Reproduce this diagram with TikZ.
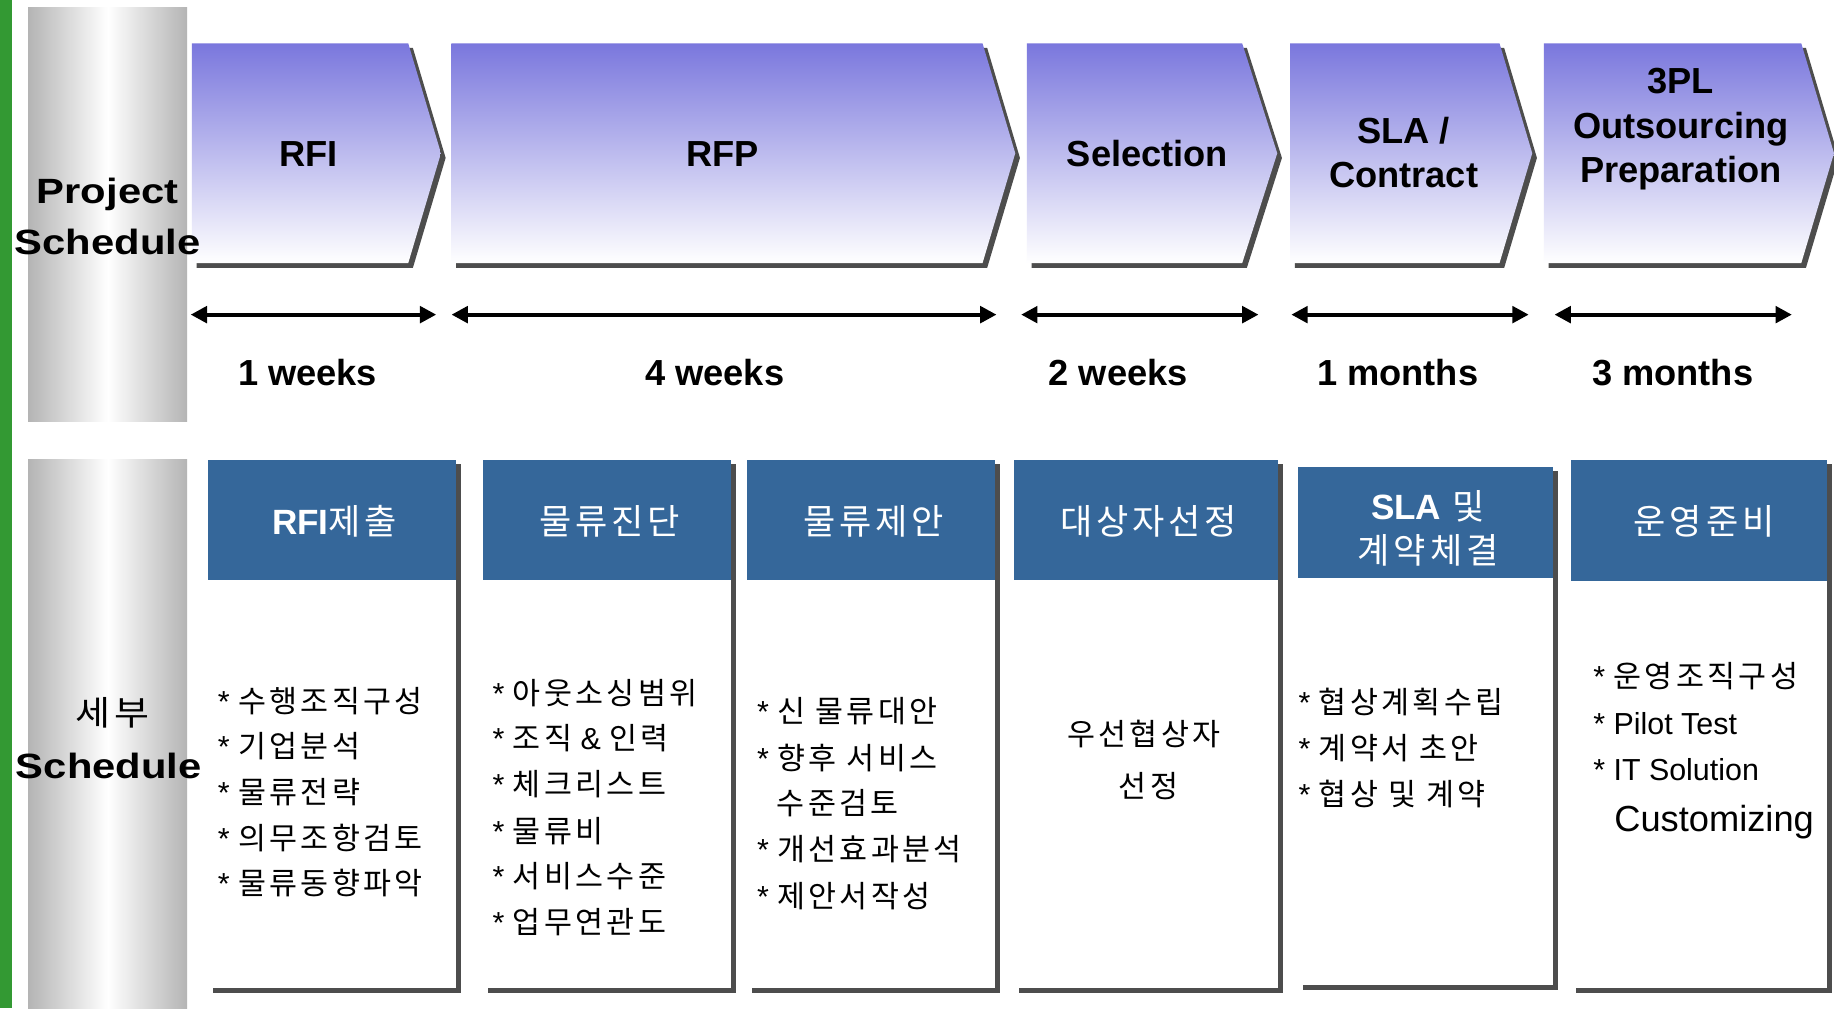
\documentclass[tikz,border=0pt]{standalone}
\usepackage{graphicx}
\usepackage{fontspec}
\setmainfont{Liberation Sans}
\newfontfamily\kr{Noto Sans CJK KR}[LetterSpace=11]
\usetikzlibrary{arrows.meta}
\definecolor{greenbar}{HTML}{339933}
\definecolor{colgray}{HTML}{B4B4B4}
\definecolor{chevtop}{HTML}{7A77DD}
\definecolor{shadowgray}{HTML}{4D4D4D}
\definecolor{hdrblue}{HTML}{35679A}
\newcommand{\myfs}[1]{\fontsize{#1}{#1}\selectfont}
\begin{document}
\begin{tikzpicture}[x=1pt,y=-1pt,
  chev/.style={top color=chevtop, bottom color=white},
  ptxt/.style={inner sep=0, anchor=base, font=\bfseries\myfs{31}},
  htxt/.style={inner sep=0, anchor=base, text=white, font=\kr\myfs{30}},
  itm/.style={inner sep=0, anchor=base west, font=\myfs{26}},
  ctr/.style={inner sep=0, anchor=base, font=\kr\myfs{26}},
  side/.style={inner sep=0, anchor=base, font=\bfseries\myfs{30}},
  arr/.style={line width=3.5pt, {Triangle[length=14pt,width=14pt]}-{Triangle[length=14pt,width=14pt]}}
]
\useasboundingbox (0,0) rectangle (1568,862);
\fill[white] (0,0) rectangle (1568,862);
\fill[greenbar] (0,0) rectangle (10,862);
% gray columns
\shade[left color=colgray, right color=colgray, middle color=white] (24,6) rectangle (160,360);
\shade[left color=colgray, right color=colgray, middle color=white] (24,393) rectangle (160,862);
% chevrons
\foreach \a/\b/\c in {164/349/377, 386/840/868, 878/1062/1092, 1103/1282/1310, 1320/1540/1568}{
  \fill[shadowgray] ({\a+4},41) -- ({\b+4},41) -- ({\c+4},135) -- ({\b+4},229) -- ({\a+4},229) -- cycle;
  \shade[chev] (\a,37) -- (\b,37) -- (\c,131) -- (\b,225) -- (\a,225) -- cycle;
}
\node[ptxt] (c1) at (264,142) {RFI};
\node[ptxt] (c2) at (618,142) {RFP};
\node[ptxt] (c3) at (981,142) {Selection};
\node[ptxt] (c4a) at (1200,123) {SLA /};
\node[ptxt] (c4b) at (1200,160) {Contract};
\node[ptxt] (c5a) at (1437,80) {3PL};
\node[ptxt] (c5b) at (1437,118) {Outsourcing};
\node[ptxt] (c5c) at (1437,156) {Preparation};
% side labels (on top)
\node[side] (ps1) at (92,174) {\scalebox{1.19}[1]{Project}};
\node[side] (ps2) at (92,218) {\scalebox{1.19}[1]{Schedule}};
\node[inner sep=0, anchor=base, font=\kr\myfs{29}] (sb1) at (96,620) {\scalebox{1.12}[1]{세부}};
\node[side] (sb2) at (93,666) {\scalebox{1.19}[1]{Schedule}};
% duration arrows
\coordinate (a1l) at (163,269); \coordinate (a1r) at (373,269);
\coordinate (a2l) at (386,269); \coordinate (a2r) at (852,269);
\coordinate (a3l) at (873,269); \coordinate (a3r) at (1076,269);
\coordinate (a4l) at (1104,269); \coordinate (a4r) at (1307,269);
\coordinate (a5l) at (1329,269); \coordinate (a5r) at (1532,269);
\draw[arr] (a1l) -- (a1r);
\draw[arr] (a2l) -- (a2r);
\draw[arr] (a3l) -- (a3r);
\draw[arr] (a4l) -- (a4r);
\draw[arr] (a5l) -- (a5r);
\node[ptxt] (d1) at (263,330) {1 weeks};
\node[ptxt] (d2) at (611,330) {4 weeks};
\node[ptxt] (d3) at (956,330) {2 weeks};
\node[ptxt] (d4) at (1195,330) {1 months};
\node[ptxt] (d5) at (1430,330) {3 months};
% detail boxes
\foreach \a/\b/\t/\h/\btm in {178/390/393/496/845, 413/625/393/496/845, 639/851/393/496/845, 867/1093/393/496/845, 1110/1328/399/494/842, 1343/1562/393/497/845}{
  \fill[shadowgray] ({\a+4},{\t+4}) rectangle ({\b+4},{\btm+4});
  \fill[white] (\a,\t) rectangle (\b,\btm);
  \fill[hdrblue] (\a,\t) rectangle (\b,\h);
}
\node[htxt] (h1) at (286,457) {{\rmfamily\bfseries RFI}제출};
\node[htxt] (h2) at (521,457) {물류진단};
\node[htxt] (h3) at (747,457) {물류제안};
\node[htxt] (h4) at (982,457) {대상자선정};
\node[htxt] (h5a) at (1221,444) {{\rmfamily\bfseries SLA} 및};
\node[htxt] (h5b) at (1221,482) {계약체결};
\node[htxt] (h6) at (1457,457) {운영준비};
% column 1
\node[itm] (i11) at (186,609) {* {\kr 수행조직구성}};
\node[itm] (i12) at (186,648) {* {\kr 기업분석}};
\node[itm] (i13) at (186,687) {* {\kr 물류전략}};
\node[itm] (i14) at (186,726) {* {\kr 의무조항검토}};
\node[itm] (i15) at (186,765) {* {\kr 물류동향파악}};
% column 2
\node[itm] (i21) at (421,602) {* {\kr 아웃소싱범위}};
\node[itm] (i22) at (421,641) {* {\kr 조직} \& {\kr 인력}};
\node[itm] (i23) at (421,680) {* {\kr 체크리스트}};
\node[itm] (i24) at (421,720) {* {\kr 물류비}};
\node[itm] (i25) at (421,759) {* {\kr 서비스수준}};
\node[itm] (i26) at (421,798) {* {\kr 업무연관도}};
% column 3
\node[itm] (i31) at (647,618) {* {\kr 신 물류대안}};
\node[itm] (i32) at (647,658) {* {\kr 향후 서비스}};
\node[itm] (i33) at (664,696) {{\kr 수준검토}};
\node[itm] (i34) at (647,736) {* {\kr 개선효과분석}};
\node[itm] (i35) at (647,776) {* {\kr 제안서작성}};
% column 4
\node[ctr] (i41) at (978,637) {우선협상자};
\node[ctr] (i42) at (982,682) {선정};
% column 5
\node[itm] (i51) at (1110,610) {* {\kr 협상계획수립}};
\node[itm] (i52) at (1110,649) {* {\kr 계약서 초안}};
\node[itm] (i53) at (1110,689) {* {\kr 협상 및 계약}};
% column 6
\node[itm] (i61) at (1362,588) {* {\kr 운영조직구성}};
\node[itm] (i62) at (1362,628) {* Pilot Test};
\node[itm] (i63) at (1362,667) {* IT Solution};
\node[inner sep=0, anchor=base west, font=\myfs{31}] (i64) at (1380,711) {Customizing};
\end{tikzpicture}
\end{document}
